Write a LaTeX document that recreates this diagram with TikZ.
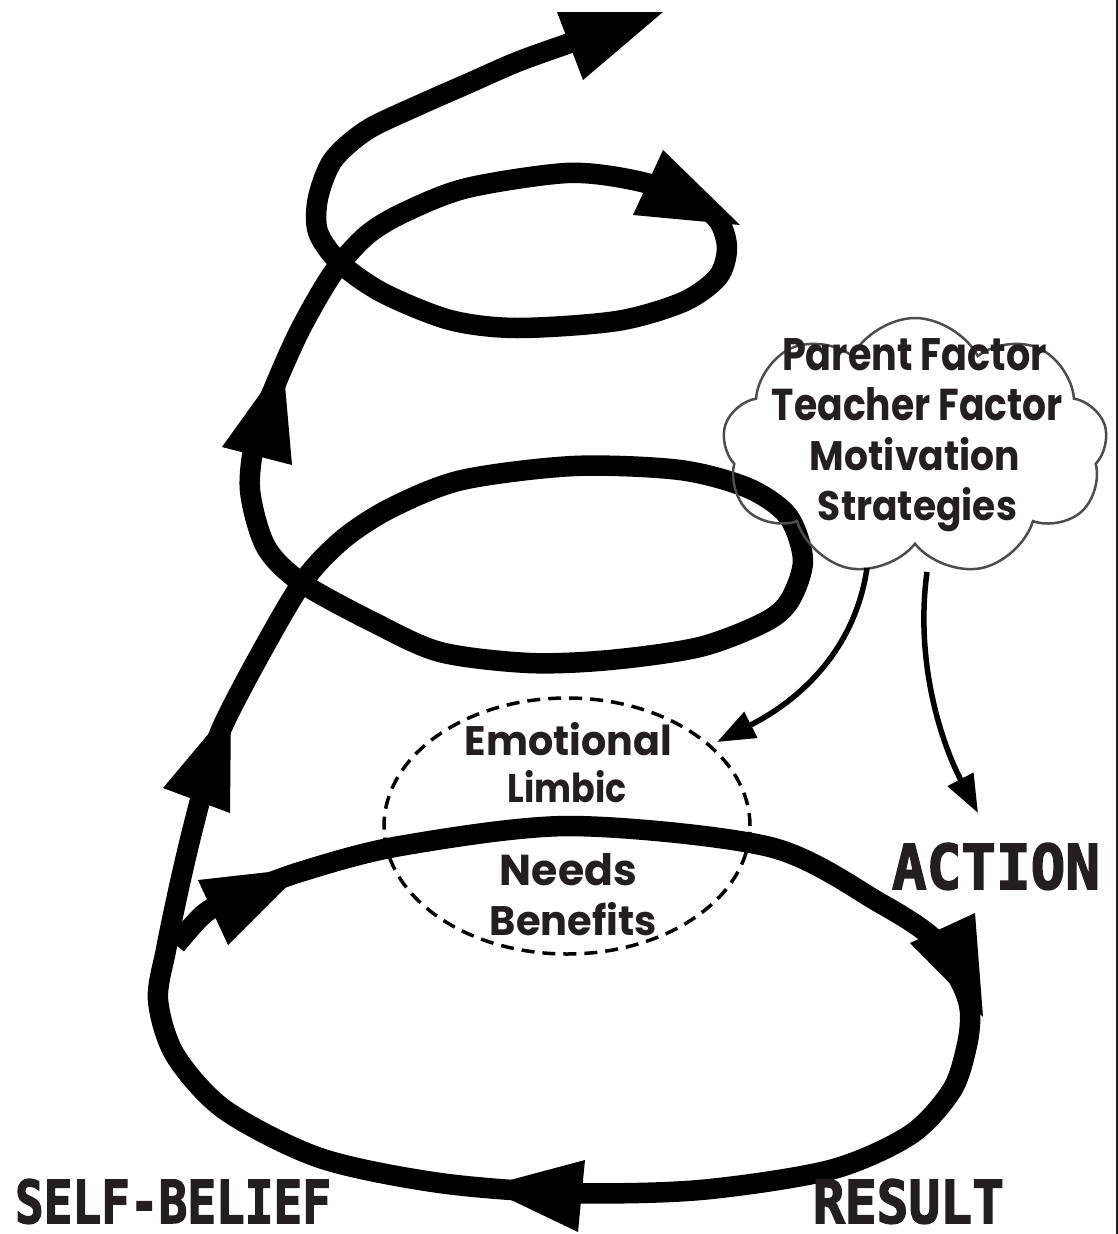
\documentclass[tikz,border=0pt]{standalone}
\usepackage{fontspec}
\usepackage{graphicx}
\usetikzlibrary{arrows.meta,shapes.symbols,shapes.geometric}
\newfontfamily\rndfont{Poppins Bold}
\newfontfamily\lblfont{DejaVu Sans Mono Bold}[FakeBold=2.5]
\newcommand{\fittext}[3]{\resizebox{#1pt}{#2pt}{#3}}
\definecolor{inkc}{HTML}{231F20}
\definecolor{cloudgray}{HTML}{4D4D4D}
\tikzset{
  spiral/.style={line width=20.5pt, line join=round, draw=black},
  headtri/.style={fill=black},
  thinarrow/.style={line width=5.5pt, draw=black, -{Triangle[length=38pt,width=28pt]}},
  lbl/.style={anchor=base, inner sep=0pt, text=inkc},
  dashring/.style={ellipse, draw=black, line width=3.5pt, dash pattern=on 13pt off 8pt, inner sep=0pt},
  cloudbox/.style={cloud, cloud puffs=9, cloud puff arc=125, draw=cloudgray, line width=2.5pt, inner sep=0pt},
}
\begin{document}
\begin{tikzpicture}[x=1pt,y=-1pt]
\fill[white] (0,0) rectangle (1118,1234);
\useasboundingbox (0,0) rectangle (1118,1234);
% right border
\coordinate (bt) at (1116.5,0);
\coordinate (bb) at (1116.5,1234);
\draw[line width=2pt, draw=inkc] (bt) -- (bb);

% dashed ellipse
\node[dashring, minimum width=366pt, minimum height=256pt] (emo) at (567,826) {};

% spiral
\draw[spiral] plot[smooth, tension=0.5] coordinates {
 (176,945) (205,913) (240,895) (300,872) (400,846) (570,826) (770,847) (880,903)
 (935,940) (962,985) (970,1012) (967,1045) (952,1090) (910,1135) (830,1170) (700,1190)
 (570,1193) (440,1183) (320,1158) (225,1110) (175,1055) (158,1000) (166,950)
 (178,892) (190,840) (205,782) (221,730) (257,660) (302,583) (342,540) (391,508)
 (462,480) (574,466) (680,470) (748,488) (788,516) (803,560) (790,600) (765,622)
 (700,647) (610,660) (529,663) (440,652) (373,622) (302,583) (266,547) (250,490)
 (256,435) (274,388) (300,330) (333,273) (367,235) (405,212) (467,188) (567,173)
 (633,180) (688,197) (718,220) (727,248) (718,277) (683,302) (617,321) (517,328)
 (450,320) (383,293) (340,263) (318,232) (318,198) (333,160) (367,130) (417,106)
 (467,84) (517,62) (567,44) (590,36)};

% arrowheads on spiral
\fill[headtri] (557,12) -- (663,12) -- (583,80) -- cycle;
\fill[headtri] (633,215) -- (663,150) -- (740,225) -- cycle;
\fill[headtri] (222,447) -- (292,465) -- (283,362) -- cycle;
\fill[headtri] (163,788) -- (230,813) -- (231,707) -- cycle;
\fill[headtri] (198,880) -- (228,945) -- (305,868) -- cycle;
\fill[headtri] (910,943) -- (975,913) -- (983,1017) -- cycle;
\fill[headtri] (585,1160) -- (578,1232) -- (484,1187) -- cycle;

% cloud
\node[cloudbox, minimum width=385pt, minimum height=258pt] (cl) at (915,447) {};
\node[lbl] (pf) at (914.5,370) {\fittext{265}{32}{\rndfont Parent Factor}};
\node[lbl] (tf) at (917.5,420) {\fittext{291}{33}{\rndfont Teacher Factor}};
\node[lbl] (mo) at (915,470) {\fittext{210}{33}{\rndfont Motivation}};
\node[lbl] (st) at (917.5,520) {\fittext{199}{33}{\rndfont Strategies}};

% thin arrows
\coordinate (a1) at (867,568);
\coordinate (a1e) at (717,742);
\coordinate (b1) at (927,572);
\coordinate (b1e) at (978,813);
\draw[thinarrow] (a1) .. controls (855,650) and (800,700) .. (a1e);
\draw[thinarrow] (b1) .. controls (915,660) and (940,740) .. (b1e);

% dashed ellipse text
\node[lbl] (em) at (568.5,755) {\fittext{207}{33}{\rndfont Emotional}};
\node[lbl] (li) at (567.5,802) {\fittext{119}{32}{\rndfont Limbic}};
\node[lbl] (ne) at (568.5,885) {\fittext{137}{32}{\rndfont Needs}};
\node[lbl] (be) at (573.5,935) {\fittext{167}{33}{\rndfont Benefits}};

% labels
\node[lbl] (sb) at (173,1223) {\fittext{316}{44}{\lblfont SELF-BELIEF}};
\node[lbl] (re) at (908.5,1223) {\fittext{191}{44}{\lblfont RESULT}};
\node[lbl] (ac) at (996,889) {\fittext{208}{46}{\lblfont ACTION}};
\end{tikzpicture}
\end{document}
